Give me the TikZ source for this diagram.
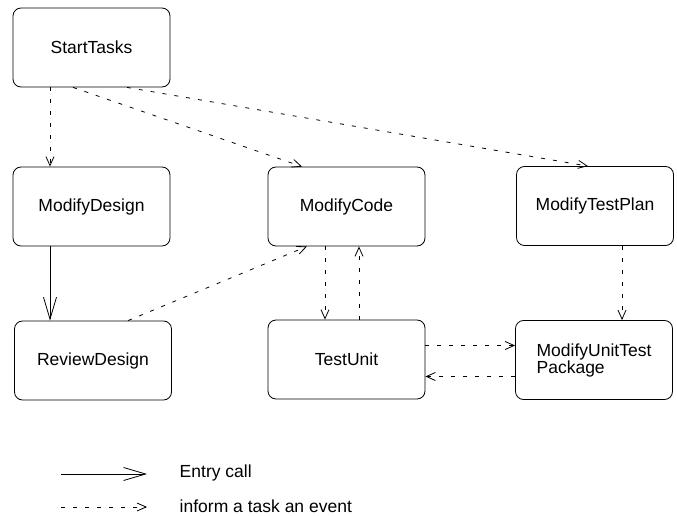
\documentclass[tikz,border=0pt]{standalone}
\usepackage{fontspec}
\setmainfont{Liberation Sans}
\usetikzlibrary{arrows.meta}

\begin{document}
\begin{tikzpicture}[x=1pt,y=-1pt,line width=0.8pt,
    task/.style={draw,rounded corners=8pt,minimum width=157pt,minimum height=79pt,
                 font=\fontsize{17.5}{17}\selectfont,align=left},
    call/.style={-{Straight Barb[length=22pt,width=13pt]}},
    inform/.style={dash pattern=on 4pt off 8pt,-{Straight Barb[length=9pt,width=8pt]}},
    lbl/.style={anchor=west,font=\fontsize{17.5}{20}\selectfont}]
  \useasboundingbox (0,0) rectangle (677,516);
                      \node[task]  (st)   at (91.5,47.5)                         {StartTasks};
                      \node[task]  (md)   [below of=st,node distance=159pt]      {ModifyDesign};
                      \node[task]  (rd)   [below of=md,node distance=154pt,xshift=1.5pt] {ReviewDesign};
                      \node[task]  (mc)   [right of=md,node distance=255pt]      {ModifyCode};
                      \node[task]  (tu)   [below of=mc,node distance=153pt]      {TestUnit};
                      \node[task]  (mtp)  [right of=mc,node distance=248.5pt,yshift=0.5pt] {ModifyTestPlan};
                      \node[task]  (mutp) [below of=mtp,node distance=154pt,xshift=-1pt]  {ModifyUnitTest\\Package};

                          \draw[call] ([xshift=-41.5pt]md.south) -- ([xshift=-43pt]rd.north);
                          \draw[inform] ([xshift=-41.5pt]st.south) -- ([xshift=-41.5pt]md.north);
                          \draw[inform] ([xshift=-18.5pt]st.south) -- ([xshift=-44.5pt]mc.north);
                          \draw[inform] ([xshift=35.5pt]st.south)  -- ([xshift=-7pt]mtp.north);
                          \draw[inform] ([xshift=35pt]rd.north)    -- ([xshift=-39.5pt]mc.south);
                          \draw[inform] ([xshift=-21.5pt]mc.south) -- ([xshift=-21.5pt]tu.north);
                          \draw[inform] ([xshift=12.5pt]tu.north)  -- ([xshift=12.5pt]mc.south);
                          \draw[inform] ([xshift=27pt]mtp.south)   -- ([xshift=28pt]mutp.north);
                          \draw[inform] ([yshift=14pt]tu.east)     -- ([yshift=14.5pt]mutp.west);
                          \draw[inform] ([yshift=-16.5pt]mutp.west) -- ([yshift=-17pt]tu.east);

  % legend
  \coordinate (ca) at (61,474);
  \coordinate (cb) at (147,474);
  \coordinate (ia) at (61,507);
  \coordinate (ib) at (147,507);
  \draw[call] (ca) -- (cb);
  \draw[inform] (ia) -- (ib);
  \node[lbl] (lcall) at (176,473) {Entry call};
  \node[lbl] (linf)  at (176,506) {inform a task an event};
\end{tikzpicture}
\end{document}
